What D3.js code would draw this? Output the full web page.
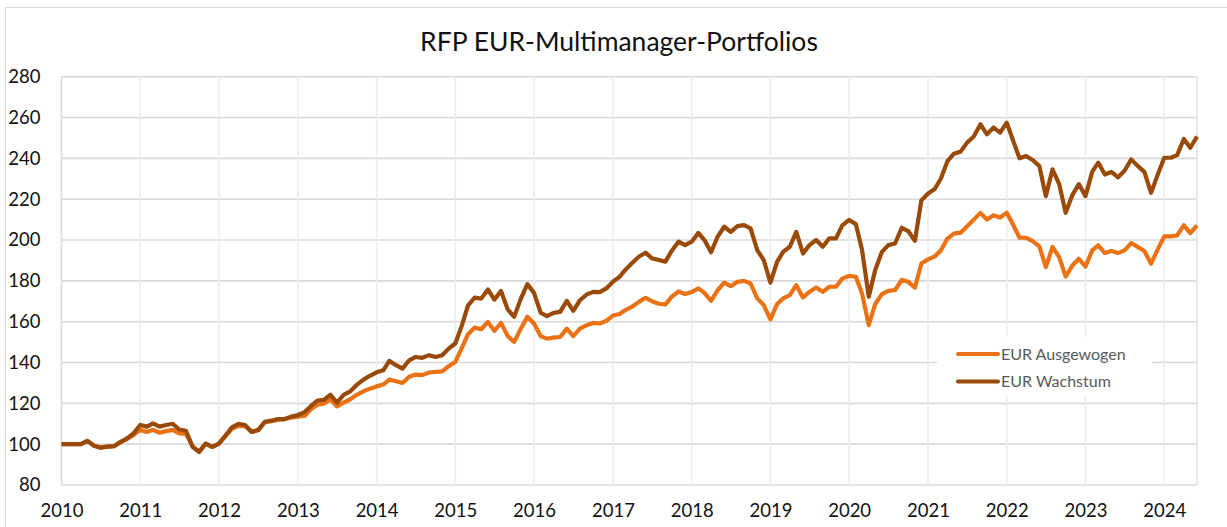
<!DOCTYPE html>
<html>
<script src="https://d3js.org/d3.v7.min.js"></script>
<style>
    body {
        margin: 0;
        background: #fff;
    }

    .domain {
        display: none;
    }

    .tick text {
        font-family: Lato, "Open Sans", sans-serif;
        font-size: 18.5px;
        fill: #111;
    }
</style>

<body>
</body>
<script>
    const width = 1227,
        height = 527;

    const years = [2010, 2011, 2012, 2013, 2014, 2015, 2016, 2017, 2018, 2019, 2020, 2021, 2022, 2023, 2024];
    const yTicks = [80, 100, 120, 140, 160, 180, 200, 220, 240, 260, 280];
    const seriesNames = ["EUR Ausgewogen", "EUR Wachstum"];

    // monthly values, Jan 2010 .. Jun 2024
    const ausgewogen = [
        100, 100, 100, 100, 101.6, 99.2, 98.3, 98.8, 99, 101, 102.5, 104.5,
        107, 106, 107, 105.6, 106.4, 107, 105.3, 105, 99, 96.2, 100.3, 98.7,
        100.3, 104, 107.5, 109, 108.8, 106, 106.9, 110.8, 111.3, 112, 112.3, 113,
        113.5, 113.8, 117, 119.3, 119.8, 122, 118.5, 120.4, 122, 124.2, 125.9, 127.2,
        128.3, 129.2, 131.6, 130.8, 130, 133, 134.1, 133.8, 135.1, 135.4, 135.7, 138.2,
        140.3, 147.3, 153.9, 157.1, 156.3, 159.9, 155.5, 159.4, 152.9, 150.1, 156.6, 162.4,
        159.1, 152.9, 151.7, 152.2, 152.5, 156.6, 152.9, 156.6, 158.3, 159.4, 159.1, 160.4,
        163, 163.8, 165.8, 167.4, 169.7, 171.7, 170, 168.8, 168.4, 172.3, 174.8, 173.6,
        174.5, 176.3, 174.1, 170.2, 175.4, 179.1, 177.4, 179.5, 180, 178.7, 171.4, 168.1,
        161.1, 168.6, 171.4, 173, 177.9, 171.9, 174.6, 176.8, 174.6, 177.1, 177.1, 181.2,
        182.4, 182, 173.8, 158.3, 168.6, 173.5, 175.1, 175.5, 180.5, 179.5, 176.7, 188.5,
        190.5, 192, 194.8, 200.7, 203.1, 203.6, 206.7, 210, 213.3, 210, 212.1, 211,
        213.4, 207.2, 201.1, 201.1, 199.5, 196.9, 186.7, 196.6, 191.6, 182.1, 187.5, 190.8,
        187, 194.9, 197.4, 193.6, 194.6, 193.6, 194.9, 198.5, 196.6, 194.6, 188.4, 195.2,
        201.8, 201.8, 202.3, 207.2, 203.4, 207.2
    ];
    const wachstum = [
        100, 100, 100, 100, 101.6, 99.2, 98.3, 98.8, 99, 101, 102.8, 105.3,
        109.4, 108.6, 110.2, 108.6, 109.4, 110, 107.2, 106.6, 98.7, 96.2, 100.3, 98.7,
        100.3, 104.4, 108.2, 110, 109.4, 106, 106.9, 111, 111.5, 112.3, 112.3, 113.5,
        114.3, 115.7, 118.5, 121.4, 121.7, 124.2, 120.4, 124.2, 125.9, 129, 131.6, 133.5,
        135.2, 136.2, 140.8, 138.7, 137, 141.1, 142.7, 142.3, 143.6, 142.7, 143.6, 146.8,
        149.3, 158.3, 168, 171.8, 171.3, 175.8, 170.8, 175, 166, 162.4, 171.3, 178.4,
        174.1, 164.3, 162.7, 164.3, 164.8, 170.2, 165.3, 170.5, 173.3, 174.6, 174.5, 176.3,
        179.6, 182, 185.6, 188.9, 191.8, 193.8, 191, 190.2, 189.4, 194.8, 199.2, 197.5,
        199.2, 203.5, 200, 194, 201.6, 206.5, 204, 206.8, 207.3, 205.7, 195.1, 190.2,
        179.1, 189.3, 194.2, 196.7, 204, 193.4, 197.5, 200, 196.7, 200.8, 200.8, 207.3,
        209.8, 207.8, 195.1, 172.2, 185.3, 194.2, 197.5, 198.3, 206, 204.4, 199.6, 219.4,
        222.8, 225, 230, 238.6, 242.3, 243.3, 247.7, 250.7, 256.7, 251.8, 255.1, 252.6,
        257.5, 248.2, 240, 241.1, 239.2, 236.2, 221.5, 234.6, 227.4, 213.3, 222, 227.4,
        221.5, 233.4, 237.9, 232.1, 233.4, 230.7, 233.9, 239.5, 236.2, 233.4, 223.1, 231.8,
        240.3, 240.3, 241.6, 249.5, 245.2, 250.7
    ];

    const months = d3.timeMonth.range(new Date(2010, 0, 1), new Date(2024, 6, 1));
    const colors = ["#EA7214", "#9A4A08"];
    const series = [ausgewogen, wachstum].map((vals, i) => ({
        name: seriesNames[i],
        color: colors[i],
        values: vals.map((v, j) => ({ date: months[j], value: v }))
    }));

    const svg = d3.select("body").append("svg").attr("width", width).attr("height", height);

    // chart frame
    svg.append("rect")
        .attr("x", 5.5).attr("y", 7.5)
        .attr("width", width + 10).attr("height", height + 10)
        .attr("fill", "none").attr("stroke", "#D9D9D9").attr("stroke-width", 1);

    const x = d3.scaleTime()
        .domain([new Date(2010, 0, 1), new Date(2024, 5, 1)])
        .range([61.5, 1197]);
    const y = d3.scaleLinear()
        .domain([80, 280])
        .range([485, 76.7]);

    const grid = svg.append("g");
    grid.selectAll(".hgrid")
        .data(yTicks)
        .join("line")
        .attr("class", "hgrid")
        .attr("x1", x.range()[0]).attr("x2", x.range()[1])
        .attr("y1", d => y(d)).attr("y2", d => y(d))
        .attr("stroke", "#D9D9D9").attr("stroke-width", 1.6);
    grid.selectAll(".vgrid")
        .data(years)
        .join("line")
        .attr("class", "vgrid")
        .attr("x1", d => x(new Date(d, 0, 1))).attr("x2", d => x(new Date(d, 0, 1)))
        .attr("y1", y(280)).attr("y2", y(80))
        .attr("stroke", d => d === 2010 ? "#D9D9D9" : "#EDEDED").attr("stroke-width", 1.6);
    grid.append("line")
        .attr("x1", x.range()[1]).attr("x2", x.range()[1])
        .attr("y1", y(280)).attr("y2", y(80))
        .attr("stroke", "#E3E3E3").attr("stroke-width", 1.6);

    // legend background hides the gridlines behind it
    svg.append("rect")
        .attr("x", 937).attr("y", 337)
        .attr("width", 215).attr("height", 58)
        .attr("fill", "#fff");

    const line = d3.line()
        .x(d => x(d.date))
        .y(d => y(d.value));

    svg.append("g").selectAll("path")
        .data(series)
        .join("path")
        .attr("d", d => line(d.values))
        .attr("fill", "none")
        .attr("stroke", d => d.color)
        .attr("stroke-width", 4.2)
        .attr("stroke-linejoin", "round");

    svg.append("g")
        .attr("transform", `translate(61.5,0)`)
        .call(d3.axisLeft(y).tickValues(yTicks).tickSize(0).tickPadding(21));
    svg.append("g")
        .attr("transform", `translate(0,${y(80) + 19})`)
        .call(d3.axisBottom(x).tickValues(years.map(d => new Date(d, 0, 1)))
            .tickFormat(d3.timeFormat("%Y")).tickSize(0).tickPadding(0));

    const legend = svg.append("g").attr("transform", "translate(958,354)");
    legend.selectAll("g")
        .data(series)
        .join("g")
        .attr("transform", (d, i) => `translate(0,${i * 27.5})`)
        .each(function (d) {
            const g = d3.select(this);
            g.append("line")
                .attr("x1", 0).attr("x2", 40)
                .attr("stroke", d.color).attr("stroke-width", 4).attr("stroke-linecap", "round");
            g.append("text")
                .attr("x", 43).attr("dy", "0.35em")
                .attr("font-family", "Lato, sans-serif").attr("font-size", 16)
                .attr("fill", "#595959")
                .text(d.name);
        });

    svg.append("text")
        .attr("x", 619).attr("y", 51)
        .attr("text-anchor", "middle")
        .attr("font-family", "Lato, sans-serif").attr("font-size", 26.5)
        .attr("fill", "#111")
        .text("RFP EUR-Multimanager-Portfolios");
</script>

</html>
